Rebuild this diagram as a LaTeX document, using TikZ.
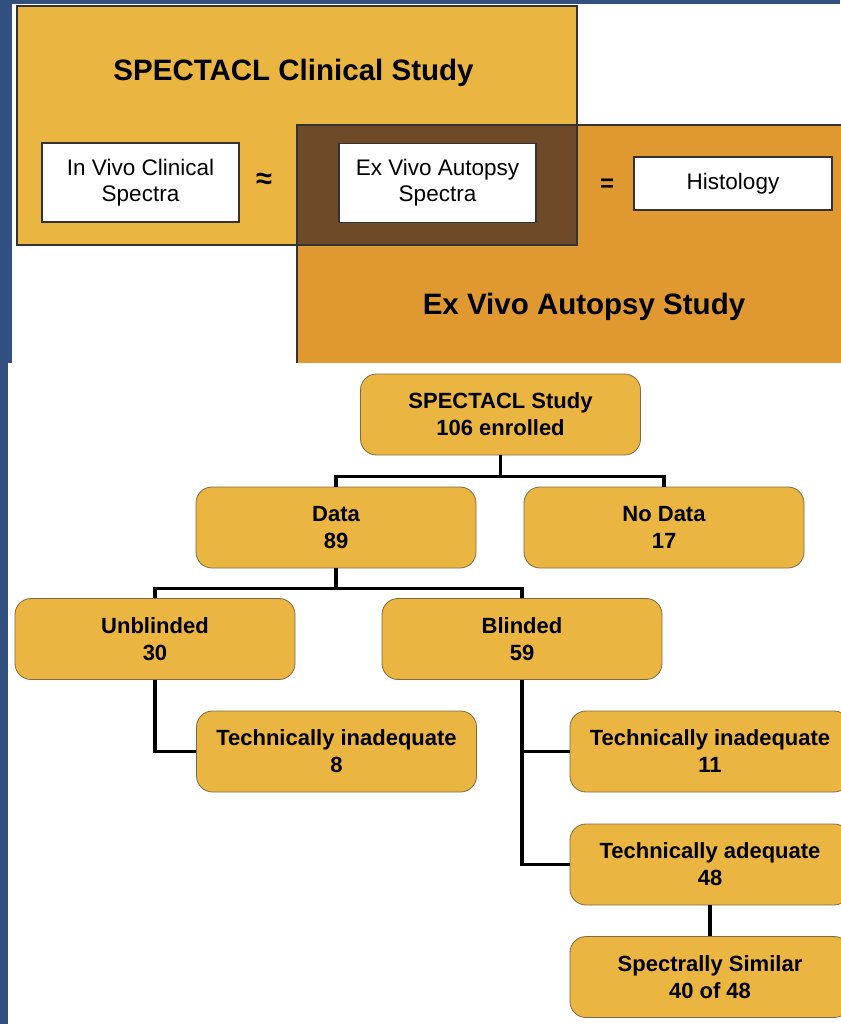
\documentclass[tikz,border=0pt]{standalone}
\usepackage{fontspec}
\setmainfont{Liberation Sans}
\definecolor{bgblue}{HTML}{31507F}
\definecolor{gold}{HTML}{EBB542}
\definecolor{dorange}{HTML}{E09830}
\definecolor{brownov}{HTML}{6F4A28}
\definecolor{boxedge}{HTML}{7D6B45}
\begin{document}
\begin{tikzpicture}[x=1pt,y=-1pt,
 flow/.style={draw=boxedge, line width=0.8pt, fill=gold, rounded corners=16pt, minimum width=280pt, minimum height=81pt, inner sep=0pt, align=center, font=\fontsize{22}{27}\selectfont\bfseries},
 wbox/.style={draw=black!80, line width=1.2pt, fill=white, minimum width=197pt, minimum height=79pt, inner sep=0pt, align=center, font=\fontsize{22.5}{26}\selectfont},
 conn/.style={line width=3.7pt, black},
 ttl/.style={font=\fontsize{29.5}{34}\selectfont\bfseries, inner sep=0pt, anchor=base},
 sym/.style={font=\fontsize{24}{28}\selectfont\bfseries, inner sep=0pt}]
\useasboundingbox (0,0) rectangle (840,1024);
\fill[bgblue] (0,0) rectangle (840,1024);
\fill[white] (12,4) rectangle (840,363);
\fill[white] (8,363) rectangle (840,1024);
% overlapping study regions
\fill[gold] (17,6) rectangle (577,245);
\fill[dorange] (297,125) rectangle (845,363);
\fill[brownov] (297,125) rectangle (577,245);
\draw[black!80, line width=1.2pt] (17,6) rectangle (577,245);
\draw[black!80, line width=1.2pt] (297,363) -- (297,125) -- (845,125);
\node[ttl] (clin) at (293.5,81) {SPECTACL Clinical Study};
\node[ttl] (autopsy) at (584,314) {Ex Vivo Autopsy Study};
\node[wbox] (invivo) at (140.5,182.5) {In Vivo Clinical\\Spectra};
\node[wbox] (exvivo) at (437.5,183) {Ex Vivo Autopsy\\Spectra};
\node[wbox, minimum width=198pt, minimum height=53pt] (histo) at (733,183.5) {Histology};
\node[sym, font=\fontsize{29}{32}\selectfont\bfseries] (approx) at (264,181) {≈};
\node[sym] (eq) at (607,185) {=};
% flowchart
\node[flow] (root) at (500.5,414.5) {SPECTACL Study\\106 enrolled};
\node[flow] (data) at (336,527.5) {Data\\89};
\node[flow] (nodata) at (664,527.5) {No Data\\17};
\node[flow] (unb) at (155,639) {Unblinded\\30};
\node[flow] (bli) at (522,639) {Blinded\\59};
\node[flow] (ti8) at (336.5,751.5) {Technically inadequate\\8};
\node[flow] (ti11) at (710,751.5) {Technically inadequate\\11};
\node[flow] (ta48) at (710,864.5) {Technically adequate\\48};
\node[flow] (ss) at (710,977) {Spectrally Similar\\40 of 48};
\draw[conn] (root.south) -- ++(0,21) -| (data.north);
\draw[conn] (root.south) -- ++(0,21) -| (nodata.north);
\draw[conn] (data.south) -- ++(0,20) -| (unb.north);
\draw[conn] (data.south) -- ++(0,20) -| (bli.north);
\draw[conn] (unb.south) |- (ti8.west);
\draw[conn] (bli.south) |- (ti11.west);
\draw[conn] (bli.south) |- (ta48.west);
\draw[conn] (ta48.south) -- (ss.north);
\end{tikzpicture}
\end{document}
